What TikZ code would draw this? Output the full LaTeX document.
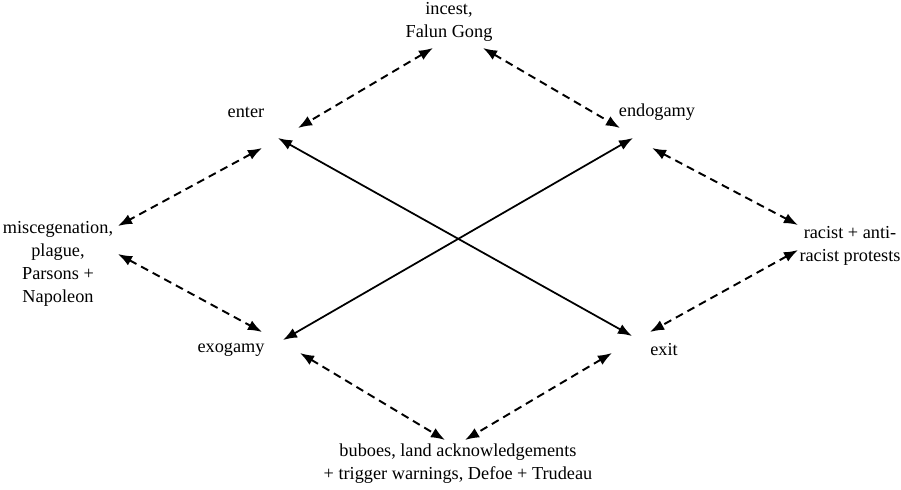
\documentclass[tikz,border=0pt]{standalone}
\usepackage{fontspec}
\setmainfont{Liberation Serif}
\usetikzlibrary{arrows.meta}
\begin{document}
\begin{tikzpicture}[font=\fontsize{10.4}{13.2}\selectfont,
  lbl/.style={align=center,inner sep=0pt},
  link/.style={{Latex[length=8pt,width=6pt]}-{Latex[length=8pt,width=6pt]},line width=1pt},
  dlink/.style={link,line width=1.1pt,dash pattern=on 4.5pt off 3pt}]
\useasboundingbox (0,0) rectangle (18.02,9.78);
\node[lbl] (inc) at (8.98,9.34) {incest,\\Falun Gong};
\node[lbl] (enter) at (4.92,7.54) {enter};
\node[lbl] (endo) at (13.14,7.54) {endogamy};
\node[lbl] (misc) at (1.16,4.50) {miscegenation,\\plague,\\Parsons +\\Napoleon};
\node[lbl] (rac) at (17.0,4.86) {racist + anti-\\racist protests};
\node[lbl] (exo) at (4.62,2.78) {exogamy};
\node[lbl] (exit) at (13.28,2.78) {exit};
\node[lbl] (bub) at (9.16,0.5) {buboes, land acknowledgements\\+ trigger warnings, Defoe + Trudeau};
\draw[dlink] ([shift={(-0.32,-0.52)}]inc.center) -- ([shift={(1.04,-0.32)}]enter.center);
\draw[dlink] ([shift={(0.68,-0.52)}]inc.center) -- ([shift={(-0.74,-0.32)}]endo.center);
\draw[dlink] ([shift={(0.32,-0.72)}]enter.center) -- ([shift={(1.2,0.76)}]misc.center);
\draw[dlink] ([shift={(1.2,0.20)}]misc.center) -- ([shift={(0.62,0.36)}]exo.center);
\draw[dlink] ([shift={(-0.10,-0.72)}]endo.center) -- ([shift={(-1.04,0.42)}]rac.center);
\draw[dlink] ([shift={(-1.04,-0.08)}]rac.center) -- ([shift={(-0.28,0.36)}]exit.center);
\draw[dlink] ([shift={(1.38,-0.06)}]exo.center) -- ([shift={(-0.26,0.48)}]bub.center);
\draw[dlink] ([shift={(-1.04,-0.06)}]exit.center) -- ([shift={(0.14,0.48)}]bub.center);
\draw[link] ([shift={(0.64,-0.52)}]enter.center) -- ([shift={(-0.64,0.28)}]exit.center);
\draw[link] ([shift={(1.04,0.20)}]exo.center) -- ([shift={(-0.48,-0.52)}]endo.center);
\end{tikzpicture}
\end{document}
